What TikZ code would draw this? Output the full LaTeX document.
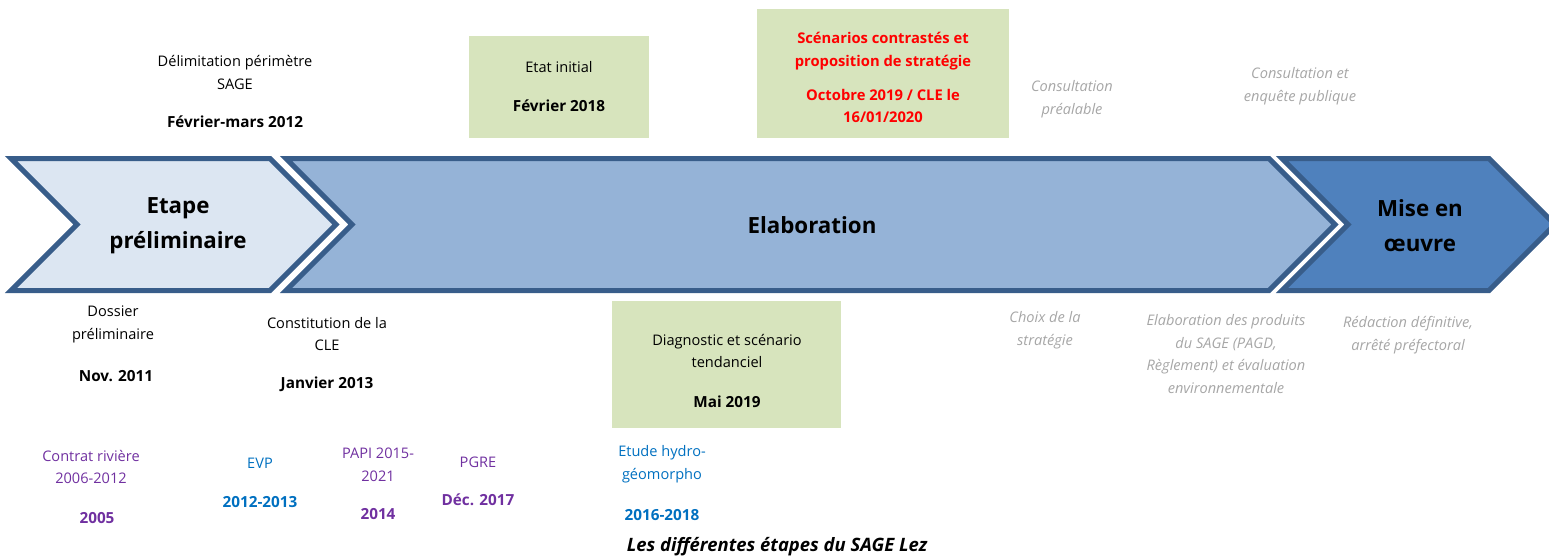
\documentclass[tikz,border=0pt]{standalone}
\usepackage{fontspec}
\setmainfont{Open Sans}
\usetikzlibrary{positioning}
\definecolor{phaseline}{HTML}{385D8A}
\definecolor{phaseA}{HTML}{DCE6F2}
\definecolor{phaseB}{HTML}{95B3D7}
\definecolor{phaseC}{HTML}{4F81BD}
\definecolor{boxgreen}{HTML}{D7E4BD}
\definecolor{txtgrey}{HTML}{A6A6A6}
\definecolor{txtpurple}{HTML}{7030A0}
\definecolor{txtblue}{HTML}{0070C0}
\begin{document}
\begin{tikzpicture}[x=0.02cm, y=-0.02cm,
		every node/.style={align=center, inner sep=0pt, font=\fontsize{8.3}{13}\selectfont},
		phase/.style={draw=phaseline, line width=2.85pt, line join=miter},
		title/.style={font=\fontsize{12.7}{19.8}\selectfont\bfseries},
		date/.style={font=\fontsize{8.7}{13}\selectfont\bfseries},
		redtext/.style={text=red, font=\fontsize{8.4}{13}\selectfont\bfseries},
		todo/.style={text=txtgrey, font=\fontsize{8.3}{13}\selectfont\itshape},
		greenbox/.style={fill=boxgreen, minimum width=#1},
		purple/.style={text=txtpurple},
		blue/.style={text=txtblue}]
		\useasboundingbox (0,0) rectangle (1549,559);

		% Phases
		\path[phase, fill=phaseA] (11,158.5) -- (270,158.5) -- (336,224.5) -- (270,290.5) -- (11,290.5) -- (77,224.5) -- cycle;
		\path[phase, fill=phaseB] (286,158.5) -- (1269,158.5) -- (1335,224.5) -- (1269,290.5) -- (286,290.5) -- (352,224.5) -- cycle;
		\path[phase, fill=phaseC] (1282,158.5) -- (1489,158.5) -- (1555,224.5) -- (1489,290.5) -- (1282,290.5) -- (1348,224.5) -- cycle;

		% Boxes
		\node (etatbox) [greenbox=3.6cm, minimum height=2.04cm] at (559,87) {};
		\node (scenbox) [greenbox=5.04cm, minimum height=2.58cm] at (883,73.5) {};
		\node (diagbox) [greenbox=4.58cm, minimum height=2.54cm] at (726.5,364.5) {};

		% Nodes
		\node (etape) [title] at (178,225.5) {Etape\\préliminaire};
		\node (elab) [title] at (812,225) {Elaboration};
		\node (mise) [title] at (1420,225.5) {Mise en\\œuvre};

		\node (delim) at (235,72.5) {Délimitation périmètre\\SAGE};
		\node (delimdate) [date] at (235,122) {Février-mars 2012};
		\node (etat) at (559,67) {Etat initial};
		\node (etatdate) [date] at (559,106) {Février 2018};
		\node (scen) [redtext] at (883,51.5) {Scénarios contrastés et\\proposition de stratégie};
		\node (scendate) [redtext] at (883,106) {Octobre 2019 / CLE le\\16/01/2020};
		\node (consprea) [todo] at (1072,99.5) {Consultation\\préalable};
		\node (consenq) [todo] at (1300,86.5) {Consultation et\\enquête publique};

		\node (dossier) at (113,324.5) {Dossier\\préliminaire};
		\node (dossierdate) [date] at (116,376) {Nov. 2011};
		\node (cle) at (327,334) {Constitution de la\\CLE};
		\node (cledate) [date] at (327,384) {Janvier 2013};
		\node (diag) at (727,351) {Diagnostic et scénario\\tendanciel};
		\node (diagdate) [date] at (727,402) {Mai 2019};
		\node (choix) [todo] at (1045,330.5) {Choix de la\\stratégie};
		\node (prod) [todo] at (1226,354) {Elaboration des produits\\du SAGE (PAGD,\\Règlement) et évaluation\\environnementale};
		\node (redac) [todo] at (1408,335.5) {Rédaction définitive,\\arrêté préfectoral};

		\node (contrat) [purple] at (91,467) {Contrat rivière\\2006-2012};
		\node (contratdate) [date, purple] at (97,518) {2005};
		\node (evp) [blue] at (260,463) {EVP};
		\node (evpdate) [date, blue] at (260,502) {2012-2013};
		\node (papi) [purple] at (378,464.5) {PAPI 2015-\\2021};
		\node (papidate) [date, purple] at (378,514) {2014};
		\node (pgre) [purple] at (478,462) {PGRE};
		\node (pgredate) [date, purple] at (478,500) {Déc. 2017};
		\node (etude) [blue] at (662,464) {Etude hydro-\\géomorpho};
		\node (etudedate) [date, blue] at (662,515) {2016-2018};

		\node (caption) [font=\fontsize{10.5}{12}\selectfont\bfseries\itshape] at (777,547) {Les différentes étapes du SAGE Lez};
	\end{tikzpicture}
\end{document}
